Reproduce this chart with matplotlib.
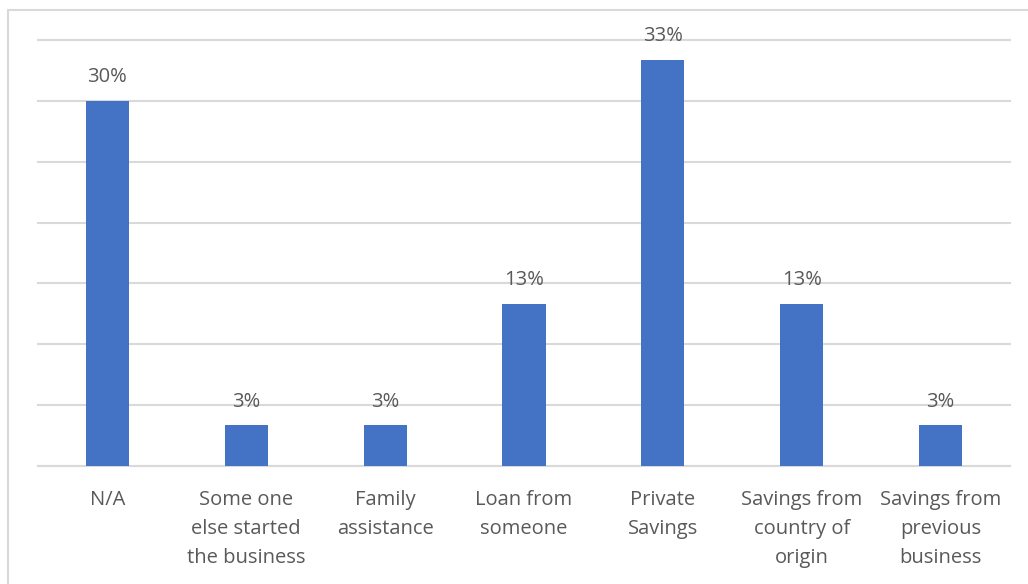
import matplotlib
matplotlib.use("Agg")
import matplotlib.pyplot as plt
from matplotlib.patches import Rectangle

categories = ["N/A", "Some one\nelse started\nthe business", "Family\nassistance",
              "Loan from\nsomeone", "Private\nSavings", "Savings from\ncountry of\norigin",
              "Savings from\nprevious\nbusiness"]
values = [30.0, 3.33, 3.33, 13.33, 33.33, 13.33, 3.33]

plt.rcParams['font.family'] = ['Open Sans', 'DejaVu Sans']
text_color = "#595959"
bar_color = "#4472C4"

fig = plt.figure(figsize=(10.28, 5.84), dpi=100)
ax = fig.add_axes([38/1028, 1-466/584, (1010-38)/1028, (466-40)/584])

x = list(range(len(categories)))
ax.bar(x, values, width=0.31, color=bar_color, zorder=3)
ax.set_xlim(-0.5, len(categories)-0.5)
ax.set_ylim(0, 35)
ax.set_yticks([0, 5, 10, 15, 20, 25, 30, 35])
ax.yaxis.grid(True, color="#D9D9D9", linewidth=1.5, zorder=0)
for gl in ax.get_ygridlines():
    gl.set_clip_on(False)
ax.tick_params(axis='y', left=False, labelleft=False)
ax.tick_params(axis='x', bottom=False, pad=14, labelsize=14.5, colors=text_color)
ax.set_xticks(x)
ax.set_xticklabels(categories, linespacing=1.6)
for s in ["top", "right", "left"]:
    ax.spines[s].set_visible(False)
ax.spines["bottom"].set_color("#D9D9D9")
ax.spines["bottom"].set_linewidth(1.5)

for xi, v in zip(x, values):
    ax.annotate(f"{v:.0f}%", (xi, v), xytext=(0, 10), textcoords="offset points",
                ha="center", va="bottom", fontsize=14.5, color=text_color)

fig.add_artist(Rectangle((8/1028, -0.1), 1.2, 1.1 - 10/584,
                         transform=fig.transFigure, fill=False,
                         edgecolor="#D9D9D9", linewidth=1.5))

fig.savefig("out.png", dpi=100)
